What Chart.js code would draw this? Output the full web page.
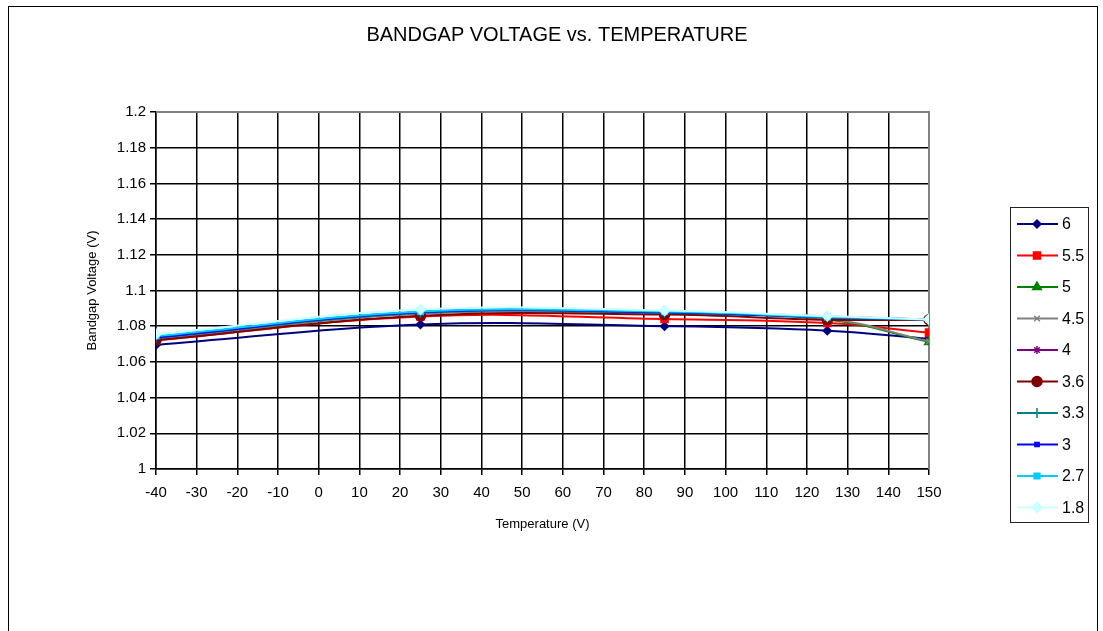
<!DOCTYPE html>
<html>
<head>
<meta charset="utf-8">
<script src="https://cdn.jsdelivr.net/npm/chart.js@4/dist/chart.umd.min.js"></script>
<style>
  body { margin: 0; background: #fff; }
  #frame { position: absolute; left: 8px; top: 6px; width: 1088px; height: 700px; border: 1.5px solid #000; border-bottom: none; }
  #c { position: absolute; left: 0; top: 0; }
</style>
</head>
<body>
<div id="frame"></div>
<canvas id="c" width="1103" height="631"></canvas>
<script>
// temperatures where the supply sweeps were measured
const temps = [-40, 25, 85, 125, 150];

// bandgap voltage per supply voltage
const v6   = [1.0695, 1.0810, 1.0800, 1.0775, 1.0730];
const v5_5 = [1.0720, 1.0855, 1.0840, 1.0818, 1.0764];
const v5   = [1.0730, 1.0872, 1.0872, 1.0838, 1.0712];
const v4_5 = [1.0730, 1.0872, 1.0872, 1.0842, 1.0715];
const v4   = [1.0740, 1.0880, 1.0880, 1.0855, 1.0838];
const v3_6 = [1.0722, 1.0858, 1.0865, 1.0836, 1.0836];
const v3_3 = [1.0735, 1.0875, 1.0876, 1.0848, 1.0837];
const v3   = [1.0738, 1.0878, 1.0878, 1.0850, 1.0837];
const v2_7 = [1.0745, 1.0882, 1.0882, 1.0852, 1.0838];
const v1_8 = [1.0756, 1.0895, 1.0888, 1.0857, 1.0838];

const seriesLabels = ['6', '5.5', '5', '4.5', '4', '3.6', '3.3', '3', '2.7', '1.8'];
const seriesValues = [v6, v5_5, v5, v4_5, v4, v3_6, v3_3, v3, v2_7, v1_8];

const xTicks = [-40, -30, -20, -10, 0, 10, 20, 30, 40, 50, 60, 70, 80, 90, 100, 110, 120, 130, 140, 150];
const yTicks = [1, 1.02, 1.04, 1.06, 1.08, 1.1, 1.12, 1.14, 1.16, 1.18, 1.2];

const FONT = '"Liberation Sans", Arial, sans-serif';

const styles = [
  { color: '#000080', point: 'rectRot', r: 4 },
  { color: '#ff0000', point: 'rect', r: 5 },
  { color: '#008000', point: 'triangle', r: 5 },
  { color: '#808080', point: 'crossRot', r: 4 },
  { color: '#800080', point: 'star', r: 4 },
  { color: '#800000', point: 'circle', r: 5 },
  { color: '#008080', point: 'cross', r: 5 },
  { color: '#0000ff', point: 'rect', r: 3 },
  { color: '#00ccff', point: 'rect', r: 4 },
  { color: '#ccffff', point: 'rectRot', r: 5 }
];

const datasets = seriesLabels.map((lab, i) => ({
  label: lab,
  data: temps.map((t, j) => ({ x: t, y: seriesValues[i][j] })),
  borderColor: styles[i].color,
  backgroundColor: styles[i].color,
  pointStyle: styles[i].point,
  pointRadius: styles[i].r,
  pointBorderWidth: 1.5,
  borderWidth: 2,
  tension: 0.4,
  order: seriesLabels.length - 1 - i
}));

// title centred over the whole frame, not just the plot
const frameTitle = {
  id: 'frameTitle',
  afterDraw(chart) {
    const ctx = chart.ctx;
    ctx.save();
    ctx.font = '20px ' + FONT;
    ctx.fillStyle = '#000';
    ctx.textAlign = 'center';
    ctx.textBaseline = 'middle';
    ctx.fillText('BANDGAP VOLTAGE vs. TEMPERATURE', 557, 35);
    ctx.restore();
  }
};

// gray top/right border of the plot area, like Excel
const plotBorder = {
  id: 'plotBorder',
  beforeDatasetsDraw(chart) {
    const { ctx, chartArea: a } = chart;
    ctx.save();
    ctx.strokeStyle = '#808080';
    ctx.lineWidth = 2;
    ctx.beginPath();
    ctx.moveTo(a.left, a.top);
    ctx.lineTo(a.right, a.top);
    ctx.lineTo(a.right, a.bottom);
    ctx.stroke();
    ctx.restore();
  }
};

// boxed legend on the right with line + marker samples
const boxLegend = {
  id: 'boxLegend',
  afterDraw(chart) {
    const ctx = chart.ctx;
    ctx.save();
    ctx.strokeStyle = '#222';
    ctx.lineWidth = 1;
    ctx.strokeRect(1010.5, 207.5, 78, 315);
    ctx.font = '16px ' + FONT;
    ctx.textBaseline = 'middle';
    chart.data.datasets.forEach((ds, i) => {
      const y = 224 + i * 31.5;
      ctx.strokeStyle = ds.borderColor;
      ctx.lineWidth = 2;
      ctx.beginPath();
      ctx.moveTo(1017, y);
      ctx.lineTo(1058, y);
      ctx.stroke();
      ctx.fillStyle = ds.backgroundColor;
      ctx.lineWidth = 1.5;
      Chart.helpers.drawPoint(ctx, { pointStyle: ds.pointStyle, radius: ds.pointRadius, rotation: 0, borderWidth: 1.5 }, 1037, y);
      ctx.fillStyle = '#000';
      ctx.fillText(ds.label, 1062, y + 1);
    });
    ctx.restore();
  }
};

new Chart(document.getElementById('c'), {
  type: 'line',
  data: { datasets },
  plugins: [frameTitle, plotBorder, boxLegend],
  options: {
    responsive: false,
    animation: false,
    layout: { padding: { left: 85, right: 174, top: 112, bottom: 99 } },
    plugins: {
      legend: { display: false },
      tooltip: { enabled: false },
      title: { display: false }
    },
    scales: {
      x: {
        type: 'linear',
        min: -40,
        max: 150,
        afterBuildTicks(scale) { scale.ticks = xTicks.map(v => ({ value: v })); },
        afterFit(scale) { scale.height = 63; },
        grid: { color: '#000', lineWidth: 1.5, tickLength: 6, drawTicks: true },
        border: { color: '#000', width: 1.5 },
        ticks: { color: '#000', maxRotation: 0, autoSkip: false, padding: 9, font: { family: FONT, size: 15 } },
        title: { display: true, text: 'Temperature (V)', color: '#000', font: { family: FONT, size: 13 }, padding: 0 }
      },
      y: {
        min: 1,
        max: 1.2,
        afterBuildTicks(scale) { scale.ticks = yTicks.map(v => ({ value: v })); },
        afterFit(scale) { scale.width = 71; },
        grid: { color: '#000', lineWidth: 1.5, tickLength: 6 },
        border: { color: '#000', width: 1.5 },
        ticks: {
          color: '#000',
          padding: 4,
          font: { family: FONT, size: 15 },
          callback: v => String(parseFloat(Number(v).toFixed(2)))
        },
        title: { display: true, text: 'Bandgap Voltage (V)', color: '#000', font: { family: FONT, size: 13 }, padding: 0 }
      }
    }
  }
});
</script>
</body>
</html>
